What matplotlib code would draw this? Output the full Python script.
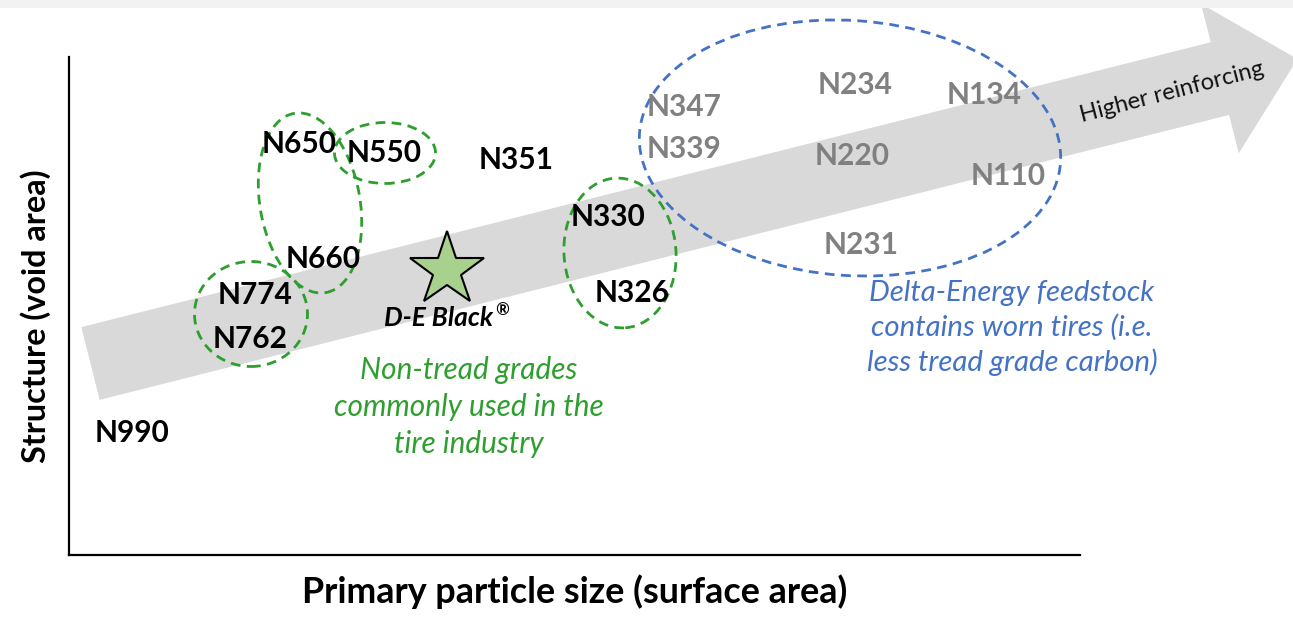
"""
Carbon black grades: structure vs primary particle size
"""

import matplotlib
matplotlib.use('Agg')
import matplotlib.pyplot as plt
from matplotlib.patches import Ellipse, FancyArrow, Rectangle

plt.rcParams['font.family'] = ['Lato', 'DejaVu Sans']

W, H = 1293, 639

# grade labels (x = surface area, y = structure), figure-pixel-like units
core_grades = ['N990', 'N762', 'N774', 'N660', 'N650', 'N550', 'N351', 'N330', 'N326']
core_x = [132, 250, 255, 323, 299, 384, 516, 608, 632]
core_y = [206, 300, 344, 380, 495, 486, 479, 422, 346]

tread_grades = ['N347', 'N339', 'N234', 'N220', 'N134', 'N110', 'N231']
tread_x = [684, 684, 855, 852, 984, 1008, 861]
tread_y = [532, 490, 554, 483, 544, 463, 394]

star_x = [447]
star_y = [369]

GREEN = '#2e9e2e'
BLUE = '#4472c4'
GRAY_TXT = '#808080'

fig = plt.figure(figsize=(W / 100, H / 100), dpi=100)
fig.patches.append(Rectangle((0, 1 - 8 / H), 1, 8 / H, transform=fig.transFigure,
                             facecolor='#f2f2f2', edgecolor='none', zorder=0))

ax = fig.add_axes([69 / W, (H - 555) / H, (1080 - 69) / W, (555 - 57) / H])
ax.set_xlim(69, 1080)
ax.set_ylim(H - 555, H - 57)
for side in ['top', 'right']:
    ax.spines[side].set_visible(False)
for side in ['left', 'bottom']:
    ax.spines[side].set_linewidth(1.6)
ax.set_xticks([])
ax.set_yticks([])
ax.patch.set_alpha(0)

ax.set_xlabel('Primary particle size (surface area)', fontsize=25.8,
              fontweight='bold', labelpad=14)
ax.set_ylabel('Structure (void area)', fontsize=23.3, fontweight='bold')
ax.yaxis.set_label_coords(-0.018, 0.48)

# big "higher reinforcing" arrow
arrow = FancyArrow(90.5, H - 363.5, 1207, 304.5, width=75, head_width=154,
                   head_length=80, length_includes_head=True,
                   facecolor='#d9d9d9', edgecolor='none', clip_on=False, zorder=1)
ax.add_patch(arrow)
ax.text(1172, H - 92, 'Higher reinforcing', fontsize=17, rotation=14.5,
        ha='center', va='center', color='#111111', zorder=3)

# dashed groupings
dash = (0, (3.5, 2.3))
groups = [
    ((251, 314), 113, 105, 0, GREEN),
    ((310, 203), 100, 182, 10, GREEN),
    ((385, 153), 101, 61, 0, GREEN),
    ((620, 253), 112, 150, 4, GREEN),
    ((850, 148), 422, 255, -4, BLUE),
]
for (cx, cy), w, h, ang, col in groups:
    ax.add_patch(Ellipse((cx, H - cy), w, h, angle=ang, fill=False,
                         edgecolor=col, linewidth=2, linestyle=dash,
                         clip_on=False, zorder=4))

for name, x, y in zip(core_grades, core_x, core_y):
    ax.text(x, y, name, fontsize=21.5, fontweight='bold', color='black',
            ha='center', va='center', zorder=5)
for name, x, y in zip(tread_grades, tread_x, tread_y):
    ax.text(x, y, name, fontsize=21.5, fontweight='bold', color=GRAY_TXT,
            ha='center', va='center', zorder=5)

ax.plot(star_x, star_y, marker='*', markersize=56, markerfacecolor='#a9d18e',
        markeredgecolor='black', markeredgewidth=1.5, linestyle='none',
        clip_on=False, zorder=5)
ax.text(493, H - 318, 'D-E Black', fontsize=19, fontweight='bold',
        fontstyle='italic', ha='right', va='center', zorder=5)
ax.text(495, H - 310, '®', fontsize=12, fontweight='bold', fontstyle='italic',
        ha='left', va='center', zorder=5)

ax.text(469, H - 407, 'Non-tread grades\ncommonly used in the\ntire industry',
        fontsize=21.4, fontstyle='italic', color=GREEN, ha='center', va='center',
        linespacing=1.4, zorder=5)
ax.text(1012, H - 328,
        'Delta-Energy feedstock\ncontains worn tires (i.e.\nless tread grade carbon)',
        fontsize=21.2, fontstyle='italic', color=BLUE, ha='center', va='center',
        linespacing=1.36, zorder=5)

plt.savefig('out.png', dpi=100)
plt.close()
